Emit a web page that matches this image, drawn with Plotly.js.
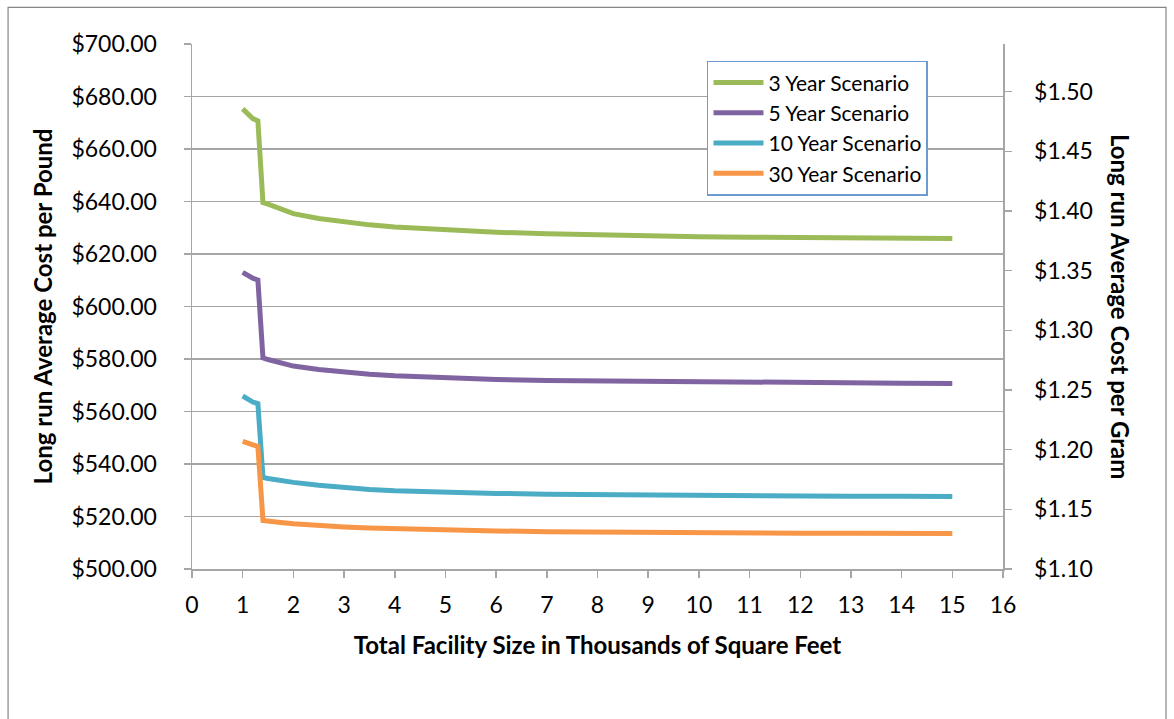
<!DOCTYPE html>
<html>
<head>
<meta charset="utf-8">
<script src="https://cdn.plot.ly/plotly-3.0.1.min.js"></script>
<style>
html,body{margin:0;padding:0;background:#fff;}
#chart{width:1174px;height:719px;}
</style>
</head>
<body>
<div id="chart"></div>
<script>
// Facility size (thousands of sq ft)
var sizeK = [1, 1.1, 1.2, 1.3, 1.4, 1.5, 1.75, 2, 2.5, 3, 3.5, 4, 5, 6, 7, 8, 9, 10, 11, 12, 13, 14, 15];
// Long run average cost per pound
var year3  = [675.3, 673.2, 671.6, 670.7, 639.6, 639.0, 637.0, 635.4, 633.5, 632.1, 631.1, 630.3, 629.2, 628.3, 627.7, 627.2, 626.9, 626.6, 626.4, 626.2, 626.1, 626.0, 625.9];
var year5  = [613.0, 611.8, 610.8, 610.1, 580.4, 579.8, 578.4, 577.3, 576.0, 574.9, 574.2, 573.6, 572.7, 572.2, 571.8, 571.6, 571.4, 571.3, 571.1, 571.0, 570.9, 570.8, 570.7];
var year10 = [565.9, 564.6, 563.6, 563.0, 534.9, 534.5, 533.6, 533.0, 531.9, 531.0, 530.3, 529.8, 529.2, 528.8, 528.5, 528.3, 528.1, 528.0, 527.9, 527.8, 527.7, 527.7, 527.6];
var year30 = [548.6, 547.8, 547.1, 546.7, 518.5, 518.2, 517.7, 517.2, 516.5, 516.0, 515.6, 515.3, 514.8, 514.5, 514.2, 514.0, 513.9, 513.8, 513.7, 513.6, 513.6, 513.5, 513.5];
var seriesNames = ["3 Year Scenario", "5 Year Scenario", "10 Year Scenario", "30 Year Scenario"];
var seriesColors = ["#9BBB59", "#8064A2", "#4BACC6", "#F79646"];
var seriesValues = [year3, year5, year10, year30];

var FONT = "Lato, 'Open Sans', sans-serif";
var traces = seriesValues.map(function (vals, i) {
  return {
    x: sizeK, y: vals, type: "scatter", mode: "lines",
    name: seriesNames[i],
    line: {color: seriesColors[i], width: 5, shape: "linear"}
  };
});
// invisible trace to activate the right-hand axis
traces.push({x: [0], y: [1.2], yaxis: "y2", type: "scatter", mode: "markers",
  marker: {opacity: 0}, showlegend: false, hoverinfo: "skip"});

var gridCol = "#A6A6A6";
var layout = {
  width: 1174, height: 719,
  paper_bgcolor: "#fff", plot_bgcolor: "#fff",
  margin: {l: 192, r: 171, t: 44, b: 150},
  font: {family: FONT, size: 23, color: "#000"},
  showlegend: true,
  legend: {
    x: 0.635, y: 0.968, xanchor: "left", yanchor: "top",
    bgcolor: "#fff", bordercolor: "#6C9BD2", borderwidth: 1.5,
    font: {family: FONT, size: 21, color: "#000"},
    itemwidth: 50,
    tracegroupgap: 0
  },
  xaxis: {
    range: [0, 16], dtick: 1, tick0: 0,
    showgrid: false, zeroline: false,
    showline: true, linecolor: gridCol, linewidth: 1.5, mirror: false,
    ticks: "outside", ticklen: 7, tickcolor: gridCol, tickwidth: 1.5,
    ticklabelstandoff: 8,
    tickfont: {family: FONT, size: 23},
    title: {text: "<b>Total Facility Size in Thousands of Square Feet</b>", font: {family: FONT, size: 24}, standoff: 20}
  },
  yaxis: {
    range: [500, 700], dtick: 20, tick0: 500,
    tickformat: "$,.2f",
    showgrid: true, gridcolor: gridCol, gridwidth: 1.5, zeroline: false,
    showline: true, linecolor: gridCol, linewidth: 1.5,
    ticks: "outside", ticklen: 7, tickcolor: gridCol, tickwidth: 1.5,
    ticklabelstandoff: 22,
    tickfont: {family: FONT, size: 23},
    title: {text: "<b>Long run Average Cost per Pound</b>", font: {family: FONT, size: 24}, standoff: 12}
  },
  yaxis2: {
    overlaying: "y", side: "right",
    range: [1.10, 1.54], dtick: 0.05, tick0: 1.10,
    tickformat: "$.2f",
    showgrid: false, zeroline: false,
    showline: true, linecolor: gridCol, linewidth: 1.5,
    ticks: "outside", ticklen: 7, tickcolor: gridCol, tickwidth: 1.5,
    ticklabelstandoff: 18,
    tickfont: {family: FONT, size: 23}
  },
  annotations: [{
    text: "<b>Long run Average Cost per Gram</b>",
    xref: "paper", yref: "paper", x: 1.145, y: 0.5,
    xanchor: "center", yanchor: "middle", textangle: 90,
    showarrow: false, font: {family: FONT, size: 24, color: "#000"}
  }],
  shapes: [{
    type: "rect", xref: "paper", yref: "paper",
    x0: -0.2268, x1: 1.2010, y0: -0.30, y1: 1.0697,
    line: {color: "#868686", width: 1.2}, fillcolor: "rgba(0,0,0,0)", layer: "below"
  }]
};

Plotly.newPlot("chart", traces, layout, {staticPlot: true, displayModeBar: false});
</script>
</body>
</html>
